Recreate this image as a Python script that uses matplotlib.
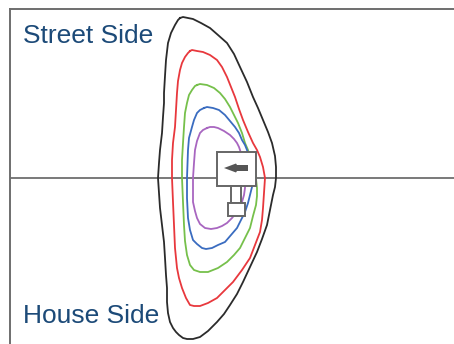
import matplotlib
matplotlib.use("Agg")
import matplotlib.pyplot as plt
from matplotlib.patches import Polygon, Rectangle

# coordinates: x to the right, y up from the road centre line (y = 0)
black_x = [180, 183, 188, 193, 201, 210, 218, 227, 234, 240, 247, 253, 258, 263, 268, 272, 275, 276, 276,
           275, 273, 270, 267, 262, 257, 250, 243, 237, 230, 224, 217, 208, 200, 193, 187,
           183, 179, 176, 173, 170, 168, 167, 167, 166, 165, 164, 162, 160, 158, 159, 160, 162, 163, 164,
           164, 165, 166, 168, 171, 175, 178, 180]
black_y = [160, 161, 160, 159, 155, 150, 143, 135, 124, 111, 96, 81, 70, 58, 46, 35, 22, 11, 0,
           -9, -17, -32, -47, -61, -74, -89, -104, -116, -127, -136, -144, -153, -159, -161, -161,
           -160, -157, -154, -150, -144, -135, -124, -110, -97, -80, -64, -47, -30, 0, 15, 28, 45, 61, 75,
           85, 102, 118, 135, 145, 153, 158, 160]

red_x = [190, 192, 197, 203, 210, 217, 222, 227, 231, 235, 239, 243, 248, 253, 257, 260, 263, 265,
         264, 263, 262, 260, 255, 250, 242, 233, 225, 217, 208, 200, 194, 190,
         186, 182, 179, 177, 175, 174, 173, 172, 172, 173, 175, 176, 177, 178, 180, 182, 185, 188, 190]
red_y = [127, 128, 127, 126, 123, 118, 111, 101, 91, 81, 69, 58, 46, 35, 28, 21, 11, 0,
         -15, -30, -42, -54, -67, -80, -92, -104, -112, -120, -125, -128, -128, -127,
         -120, -110, -100, -90, -70, -47, -24, 0, 18, 35, 51, 68, 85, 97, 108, 115, 121, 125, 127]

green_x = [197, 200, 207, 214, 220, 225, 230, 234, 238, 242, 245, 248, 250, 252, 254, 256, 257,
           257, 256, 253, 250, 245, 240, 234, 227, 218, 208, 200, 194,
           190, 187, 185, 184, 183, 182, 182, 183, 184, 185, 187, 189, 192, 195, 197]
green_y = [93, 94, 93, 90, 85, 79, 71, 63, 55, 45, 35, 28, 21, 14, 8, -1, -10,
           -18, -27, -38, -50, -60, -70, -77, -84, -90, -94, -94, -92,
           -87, -77, -63, -47, -24, 0, 18, 35, 51, 65, 75, 83, 88, 92, 93]

blue_x = [204, 207, 213, 219, 225, 230, 235, 239, 242, 245, 247, 249, 251, 252, 251, 250, 248, 245,
          241, 237, 231, 225, 218, 212, 206, 202, 197, 193, 190, 188, 187, 187, 188, 189, 192, 194, 197,
          200, 204]
blue_y = [70, 71, 70, 68, 63, 57, 51, 45, 38, 33, 28, 21, 13, -9, -13, -17, -25, -34,
          -42, -50, -57, -64, -67, -70, -71, -70, -66, -62, -52, -40, -20, 0, 28, 40, 51, 58, 65,
          68, 70]

purple_x = [207, 210, 214, 218, 224, 230, 234, 237, 239, 240, 242, 244, 245, 245, 244, 242, 240, 237,
            232, 227, 222, 217, 211, 205, 200, 197, 195, 193, 193, 193, 194, 195, 197, 200, 203, 207]
purple_y = [50, 51, 51, 50, 47, 43, 39, 35, 31, 28, 21, 13, 2, -10, -17, -24, -29, -34,
            -40, -45, -48, -50, -51, -50, -46, -40, -33, -24, -12, 0, 15, 28, 37, 45, 48, 50]

contours = [
    (black_x, black_y, "#2b2b2b"),
    (red_x, red_y, "#e8383d"),
    (green_x, green_y, "#76c04b"),
    (blue_x, blue_y, "#3a6cc0"),
    (purple_x, purple_y, "#a866c0"),
]

fig = plt.figure(figsize=(4.54, 3.44), dpi=100)
ax = fig.add_axes([10 / 454, 0, 444 / 454, 335 / 344])
ax.set_xlim(10, 454)
ax.set_ylim(-166, 169)

for xs, ys, c in contours:
    ax.plot(xs, ys, color=c, lw=1.3, zorder=2, solid_joinstyle="round")

ax.axhline(0, color="#6e6e6e", lw=1.3, zorder=1)

# vehicle: cab, hitch and trailer
gray = "#666666"
ax.add_patch(Rectangle((217, -8), 39, 34, fc="white", ec=gray, lw=1.4, zorder=3))
ax.add_patch(Rectangle((231, -25), 10, 17, fc="white", ec=gray, lw=1.4, zorder=3))
ax.add_patch(Rectangle((228, -38), 17, 13, fc="white", ec=gray, lw=1.4, zorder=3))
ax.add_patch(Polygon([(224, 10), (236, 14.5), (237, 13), (248, 13), (248, 7),
                      (237, 7), (236, 5.5)], closed=True, fc="#555555", ec="none", zorder=4))

txt = "#1c4a78"
ax.text(23, 135, "Street Side", color=txt, fontsize=19, family="Liberation Sans", va="baseline")
ax.text(23, -145, "House Side", color=txt, fontsize=19, family="Liberation Sans", va="baseline")

for s in ["right", "bottom"]:
    ax.spines[s].set_visible(False)
for s in ["left", "top"]:
    ax.spines[s].set_color("#6e6e6e")
    ax.spines[s].set_linewidth(1.4)
ax.set_xticks([])
ax.set_yticks([])

fig.savefig("out.png", dpi=100)
